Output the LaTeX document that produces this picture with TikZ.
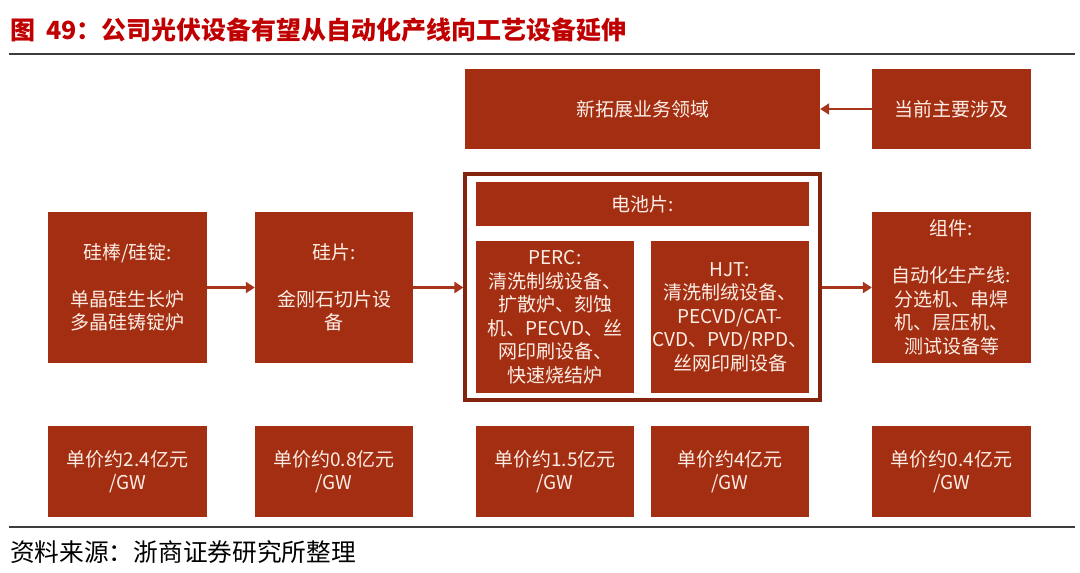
\documentclass[tikz,border=0pt]{standalone}
\usepackage{fontspec}
\setmainfont{Noto Sans CJK SC}
\usetikzlibrary{arrows.meta}
\definecolor{boxred}{RGB}{164,46,17}
\definecolor{framered}{RGB}{130,36,14}
\definecolor{arrred}{RGB}{168,52,26}
\definecolor{titlered}{RGB}{192,0,0}
\definecolor{rulegray}{RGB}{60,60,60}
\definecolor{boxtext}{RGB}{252,238,230}
\tikzset{
  box/.style={fill=boxred, draw=none, inner sep=0pt, text=boxtext, align=center,
    font=\fontsize{19}{23.5}\selectfont},
  flow/.style={draw=arrred, line width=2.4pt, -{Triangle[length=9pt,width=11pt]}},
  rulecol/.style={draw=rulegray, line width=1.6pt}
}
\begin{document}
\begin{tikzpicture}[x=1pt,y=-1pt]
\useasboundingbox (0,0) rectangle (1080,573);
% title
\node[anchor=west, inner sep=0pt, text=titlered, font=\fontsize{25}{29}\selectfont\bfseries] (title) at (10,30) {图\hspace{11pt}49：公司光伏设备有望从自动化产线向工艺设备延伸};
\coordinate (r1a) at (9,54);
\coordinate (r1b) at (1075,54);
\draw[rulecol] (r1a) -- (r1b);
% top row
\node[box, minimum width=355pt, minimum height=80pt] (new) at (642.5,109) {新拓展业务领域};
\node[box, minimum width=159pt, minimum height=80pt] (cur) at (951.5,109) {当前主要涉及};
% main row
\node[box, minimum width=159pt, minimum height=151pt] (b1) at (127.5,287.5) {硅棒/硅锭:\\[23.5pt]单晶硅生长炉\\多晶硅铸锭炉};
\node[box, minimum width=158pt, minimum height=151pt] (b2) at (334,287.5) {硅片:\\[23.5pt]金刚石切片设\\备};
\node[draw=framered, line width=3.2pt, fill=none, minimum width=355pt, minimum height=226pt, inner sep=0pt] (frame) at (642.5,287) {};
\node[box, minimum width=333pt, minimum height=44pt] (cell) at (642.5,204) {电池片:};
\node[box, minimum width=158pt, minimum height=152pt] (perc) at (555,317) {PERC:\\清洗制绒设备、\\扩散炉、刻蚀\\机、PECVD、丝\\网印刷设备、\\快速烧结炉};
\node[box, minimum width=158pt, minimum height=152pt] (hjt) at (730,317) {HJT:\\清洗制绒设备、\\PECVD/CAT-\\CVD、PVD/RPD、\\丝网印刷设备};
\node[box, minimum width=159pt, minimum height=151pt] (b5) at (951.5,287.5) {组件:\\[23.5pt]自动化生产线:\\分选机、串焊\\机、层压机、\\测试设备等};
% price row
\node[box, minimum width=159pt, minimum height=91pt] (p1) at (127.5,471.5) {单价约2.4亿元\\/GW};
\node[box, minimum width=158pt, minimum height=91pt] (p2) at (334,471.5) {单价约0.8亿元\\/GW};
\node[box, minimum width=158pt, minimum height=91pt] (p3) at (555,471.5) {单价约1.5亿元\\/GW};
\node[box, minimum width=158pt, minimum height=91pt] (p4) at (730,471.5) {单价约4亿元\\/GW};
\node[box, minimum width=159pt, minimum height=91pt] (p5) at (951.5,471.5) {单价约0.4亿元\\/GW};
% arrows
\draw[flow] (b1.east) -- (b2.west);
\draw[flow] (b2.east) -- (b2.east -| frame.west);
\draw[flow] (b5.west -| frame.east) -- (b5.west);
\draw[flow] (cur.west) -- (new.east);
% bottom rule and source
\coordinate (r2a) at (9,527);
\coordinate (r2b) at (1075,527);
\draw[rulecol] (r2a) -- (r2b);
\node[anchor=west, inner sep=0pt, text=black, font=\fontsize{24.7}{29}\selectfont] (src) at (10,552) {资料来源：浙商证券研究所整理};
\end{tikzpicture}
\end{document}
